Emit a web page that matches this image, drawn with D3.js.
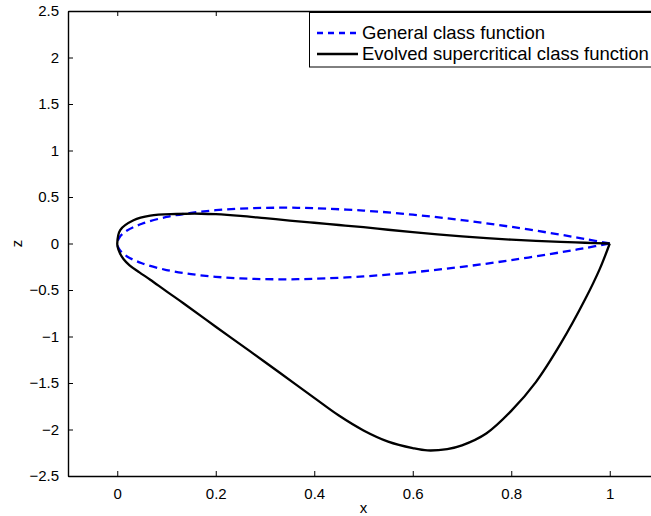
<!DOCTYPE html>
<html>
<head>
<meta charset="utf-8">
<script src="https://cdn.jsdelivr.net/npm/d3@7"></script>
<style>
  body { margin: 0; background: #fff; }
  svg { display: block; font-family: "Liberation Sans", Arial, sans-serif; }
</style>
</head>
<body>
<div id="chart"></div>
<script>
// General class function, upper and lower surfaces
const genX = [0, 0.005, 0.02, 0.05, 0.1, 0.15, 0.2, 0.25, 0.3, 0.35, 0.4, 0.5, 0.6, 0.7, 0.8, 0.9, 0.95, 1];
const genUpper = [0, 0.07, 0.139, 0.212, 0.285, 0.329, 0.358, 0.375, 0.383, 0.385, 0.379, 0.354, 0.31, 0.251, 0.179, 0.095, 0.049, 0];
const genLower = [0, -0.07, -0.139, -0.212, -0.285, -0.329, -0.358, -0.375, -0.383, -0.385, -0.379, -0.354, -0.31, -0.251, -0.179, -0.095, -0.049, 0];

// Evolved supercritical class function
const evoUpperX = [0, 0.006, 0.033, 0.067, 0.12, 0.17, 0.2, 0.25, 0.3, 0.35, 0.4, 0.45, 0.5, 0.55, 0.6, 0.65, 0.7, 0.75, 0.8, 0.85, 0.9, 0.95, 1];
const evoUpperZ = [0, 0.145, 0.25, 0.3, 0.317, 0.32, 0.315, 0.297, 0.272, 0.247, 0.223, 0.199, 0.175, 0.148, 0.122, 0.098, 0.076, 0.057, 0.041, 0.028, 0.017, 0.008, 0];
const evoLowerX = [0, 0.001, 0.005, 0.013, 0.025, 0.045, 0.067, 0.1, 0.135, 0.2, 0.27, 0.33, 0.4, 0.45, 0.5, 0.55, 0.6, 0.63, 0.67, 0.7, 0.75, 0.8, 0.85, 0.9, 0.95, 0.98, 1];
const evoLowerZ = [0, -0.04, -0.1, -0.17, -0.235, -0.31, -0.39, -0.515, -0.645, -0.895, -1.16, -1.39, -1.66, -1.85, -2.01, -2.13, -2.2, -2.225, -2.21, -2.17, -2.04, -1.8, -1.49, -1.08, -0.6, -0.27, 0];

const xTicks = [0, 0.2, 0.4, 0.6, 0.8, 1];
const yTicks = [-2.5, -2, -1.5, -1, -0.5, 0, 0.5, 1, 1.5, 2, 2.5];
const legendLabels = ['General class function', 'Evolved supercritical class function'];

const width = 651, height = 516;
const plotLeft = 68, plotRight = 659, plotTop = 11, plotBottom = 476;

const svg = d3.select('#chart').append('svg')
  .attr('width', width)
  .attr('height', height);

const x = d3.scaleLinear().domain([-0.1, 1.1]).range([plotLeft, plotRight]);
const y = d3.scaleLinear().domain([-2.5, 2.5]).range([plotBottom, plotTop]);

const fmt = d => String(d).replace('-', '\u2212');

// axes
const axisG = svg.append('g');
axisG.append('g')
  .attr('transform', `translate(0,${plotBottom})`)
  .call(d3.axisBottom(x).tickValues(xTicks).tickSizeInner(-5).tickSizeOuter(0).tickPadding(12).tickFormat(fmt));
axisG.append('g')
  .attr('transform', `translate(0,${plotTop})`)
  .call(d3.axisTop(x).tickValues(xTicks).tickSizeInner(-5).tickSizeOuter(0).tickFormat(''));
axisG.append('g')
  .attr('transform', `translate(${plotLeft},0)`)
  .call(d3.axisLeft(y).tickValues(yTicks).tickSizeInner(-5).tickSizeOuter(0).tickPadding(9).tickFormat(fmt));
axisG.append('g')
  .attr('transform', `translate(${plotRight},0)`)
  .call(d3.axisRight(y).tickValues(yTicks).tickSizeInner(-5).tickSizeOuter(0).tickFormat(''));

axisG.selectAll('.domain').attr('stroke', '#000').attr('stroke-width', 1.4);
axisG.selectAll('.tick line').attr('stroke', '#000');
axisG.selectAll('.tick text').attr('fill', '#000').style('font-size', '15px');

// axis labels
svg.append('text')
  .attr('x', x(0.5)).attr('y', 513)
  .attr('text-anchor', 'middle')
  .style('font-size', '15px')
  .text('x');
svg.append('text')
  .attr('transform', `translate(22,${y(0)}) rotate(-90)`)
  .attr('text-anchor', 'middle')
  .style('font-size', '15px')
  .text('z');

const line = d3.line()
  .x(d => x(d[0]))
  .y(d => y(d[1]))
  .curve(d3.curveCatmullRom.alpha(0.5));

// trailing edge -> upper -> leading edge -> lower -> trailing edge
const genPts = genX.map((v, i) => [v, genUpper[i]]).reverse()
  .concat(genX.slice(1).map((v, i) => [v, genLower[i + 1]]));
const evoPts = evoUpperX.map((v, i) => [v, evoUpperZ[i]]).reverse()
  .concat(evoLowerX.slice(1).map((v, i) => [v, evoLowerZ[i + 1]]));

svg.append('path')
  .attr('d', line(genPts))
  .attr('fill', 'none')
  .attr('stroke', '#0000ff')
  .attr('stroke-width', 2.3)
  .attr('stroke-dasharray', '8,5');

svg.append('path')
  .attr('d', line(evoPts))
  .attr('fill', 'none')
  .attr('stroke', '#000')
  .attr('stroke-width', 2.3)
  .attr('stroke-linejoin', 'round');

// legend
const legend = svg.append('g');
legend.append('rect')
  .attr('x', 309.5).attr('y', 12.5)
  .attr('width', 360).attr('height', 54.5)
  .attr('fill', '#fff')
  .attr('stroke', '#000');

const legendStyles = [
  { color: '#0000ff', dash: '6,5' },
  { color: '#000', dash: null }
];
legendLabels.forEach((label, i) => {
  const cy = 33 + i * 21;
  legend.append('line')
    .attr('x1', 317).attr('x2', 358)
    .attr('y1', cy).attr('y2', cy)
    .attr('stroke', legendStyles[i].color)
    .attr('stroke-width', 2.3)
    .attr('stroke-dasharray', legendStyles[i].dash);
  legend.append('text')
    .attr('x', 362).attr('y', cy + 6)
    .style('font-size', '18.5px')
    .text(label);
});
</script>
</body>
</html>
